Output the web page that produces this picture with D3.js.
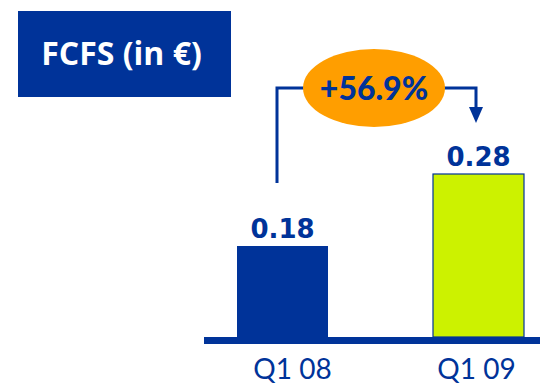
<!DOCTYPE html>
<html><head><meta charset="utf-8">
<script src="https://cdn.jsdelivr.net/npm/d3@7"></script>
<style>html,body{margin:0;padding:0;background:#fff;overflow:hidden}</style>
</head><body>
<svg id="c" width="540" height="385"></svg>
<script>
const categories = ["Q1 08", "Q1 09"];
const values = [0.18, 0.28];
const valueLabels = ["0.18", "0.28"];
const changeLabel = "+56.9%";
const title = "FCFS (in €)";

const blue = "#003399";
const svg = d3.select("#c");

// title box
svg.append("rect").attr("x",18).attr("y",11).attr("width",213).attr("height",86).attr("fill",blue);
svg.append("text").attr("x",121.5).attr("y",65).attr("text-anchor","middle")
  .attr("font-family","'Open Sans', sans-serif").attr("font-weight","bold").attr("font-size",32)
  .attr("fill","#fff").text(title);

const x = d3.scalePoint().domain(categories).range([282.5, 478.5]);
const barW = 91;
const y = d3.scaleLinear().domain([0.18, 0.28]).range([246, 174]);
const base = 337;

svg.selectAll("rect.bar").data(values).join("rect").attr("class","bar")
  .attr("x",(d,i)=>x(categories[i])-barW/2)
  .attr("width",barW)
  .attr("y",d=>y(d)).attr("height",d=>base-y(d))
  .attr("fill",(d,i)=>i===0?blue:"#ccf200")
  .attr("stroke",(d,i)=>i===0?"none":blue).attr("stroke-width",1.2);

// axis line
svg.append("rect").attr("x",204).attr("y",base).attr("width",336).attr("height",7).attr("fill",blue);

svg.selectAll("text.val").data(values).join("text").attr("class","val")
  .attr("x",(d,i)=>x(categories[i]))
  .attr("y",d=>y(d)-8).attr("text-anchor","middle")
  .attr("font-family","'DejaVu Sans', sans-serif").attr("font-weight","bold").attr("font-size",26)
  .attr("fill",blue).text((d,i)=>valueLabels[i]);

svg.selectAll("text.cat").data(categories).join("text").attr("class","cat")
  .attr("x",(d,i)=>x(d) + (i===0?10:-2))
  .attr("y",379).attr("text-anchor","middle")
  .attr("font-family","Lato, sans-serif").attr("font-size",28)
  .attr("fill",blue).text(d=>d);

// connector
const x0 = 277, x1 = 476;
const cy = 88;
svg.append("path").attr("d",`M${x0},${183} V${cy} H${x1} V${110}`)
  .attr("fill","none").attr("stroke",blue).attr("stroke-width",3);
svg.append("path").attr("d",`M${x1-7},${107} L${x1+7},${107} L${x1},${123} Z`).attr("fill",blue);

svg.append("ellipse").attr("cx",374).attr("cy",cy).attr("rx",71).attr("ry",39).attr("fill","#ff9e00");
svg.append("text").attr("x",374).attr("y",100).attr("text-anchor","middle")
  .attr("font-family","Lato, sans-serif").attr("font-weight","900").attr("font-size",32)
  .attr("fill",blue).text(changeLabel);
</script>
</body></html>
